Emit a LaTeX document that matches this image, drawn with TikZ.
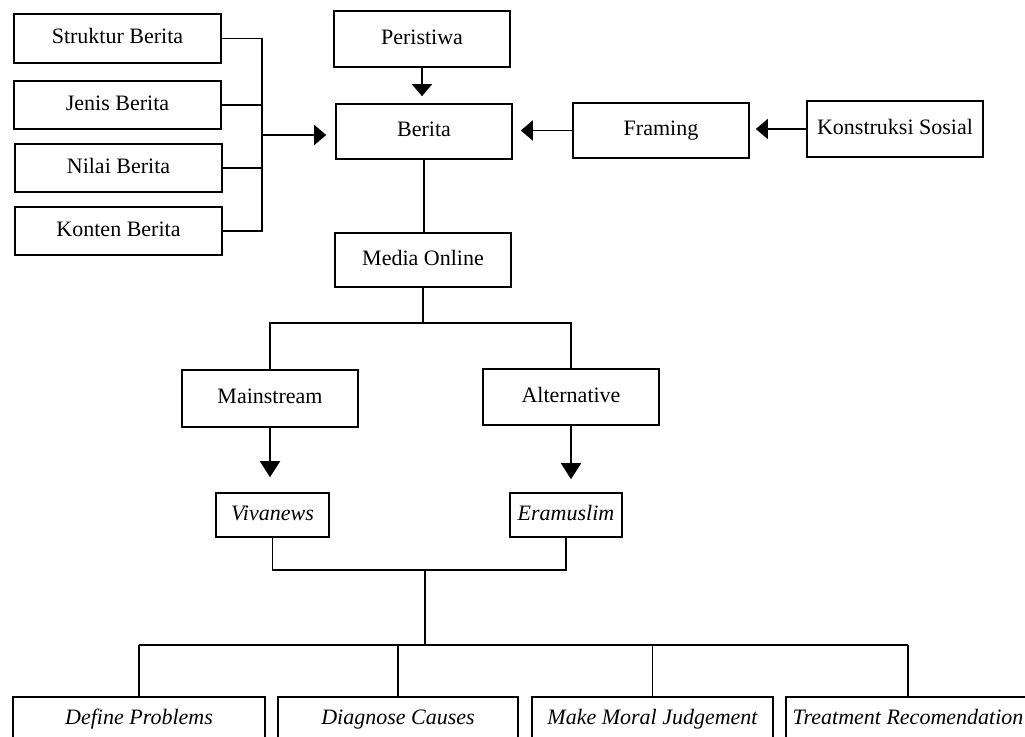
\documentclass[tikz,border=0pt]{standalone}
\usepackage{fontspec}
\setmainfont{Liberation Serif}
\usetikzlibrary{arrows.meta}

\begin{document}
\begin{tikzpicture}[x=1pt,y=-1pt,
  box/.style={draw,line width=1.6pt,inner sep=0pt,text height=14pt,text depth=4pt,
    font=\fontsize{22}{24}\selectfont},
  lin/.style={line width=1.7pt},
  arr/.style={lin,-{Triangle[length=12pt,width=20pt]}},
  arrlong/.style={lin,-{Triangle[length=16pt,width=20pt]}}]
\useasboundingbox (0,0) rectangle (1025,736);
\clip (0,0) rectangle (1025,736);
\node[box,minimum width=207pt,minimum height=49pt] (struktur) at (117.5,38.5) {Struktur Berita};
\node[box,minimum width=207pt,minimum height=48pt] (jenis) at (117.5,105) {Jenis Berita};
\node[box,minimum width=207pt,minimum height=48pt] (nilai) at (118.5,168) {Nilai Berita};
\node[box,minimum width=207pt,minimum height=48pt] (konten) at (118.5,231) {Konten Berita};
\node[box,minimum width=176pt,minimum height=56pt] (peristiwa) at (422,39) {Peristiwa};
\node[box,minimum width=176pt,minimum height=55pt] (berita) at (424,131.5) {Berita};
\node[box,minimum width=176pt,minimum height=55pt] (framing) at (661,130.5) {Framing};
\node[box,minimum width=176pt,minimum height=56pt] (konstruksi) at (895,129) {Konstruksi Sosial};
\node[box,minimum width=176pt,minimum height=54pt] (media) at (423,260) {Media Online};
\node[box,minimum width=176pt,minimum height=57pt] (mainstream) at (270,398.5) {Mainstream};
\node[box,minimum width=176pt,minimum height=56pt] (alternative) at (571,397) {Alternative};
\node[box,minimum width=113pt,minimum height=44pt] (vivanews) at (272.5,515) {\itshape Vivanews};
\node[box,minimum width=112pt,minimum height=44pt] (eramuslim) at (566,515) {\itshape Eramuslim};
\node[box,minimum width=252pt,minimum height=44pt] (define) at (139,719) {\itshape Define Problems};
\node[box,minimum width=240pt,minimum height=44pt] (diagnose) at (398,719) {\itshape Diagnose Causes};
\node[box,minimum width=241pt,minimum height=44pt] (moral) at (652.5,719) {\itshape Make Moral Judgement};
\node[box,minimum width=244pt,minimum height=44pt] (treatment) at (908,719) {\itshape Treatment Recomendation};
\coordinate (brk) at (262,135);
\coordinate (split) at (422,323);
\coordinate (join) at (425,570);
\coordinate (bus) at (425,645);

\draw[lin] (struktur.east) -- (struktur.east -| brk) -- (konten.east -| brk) -- (konten.east);
\draw[lin] (jenis.east) -- (jenis.east -| brk);
\draw[lin] (nilai.east) -- (nilai.east -| brk);
\draw[arr,shorten >=9pt] (brk) -- (brk -| berita.west);
\draw[arr,shorten >=7pt] (peristiwa.south) -- (peristiwa.south |- berita.north);
\draw[arr,shorten >=8pt] (framing.west) -- (berita.east |- framing.west);
\draw[arr,shorten >=6pt] (konstruksi.west) -- (framing.east |- konstruksi.west);
\draw[lin] (berita.south) -- (berita.south |- media.north);
\draw[lin] (media.south) -- (media.south |- split);
\draw[lin] (mainstream.north) -- (mainstream.north |- split) -- (alternative.north |- split) -- (alternative.north);
\draw[arrlong,shorten >=15pt] (mainstream.south) -- (mainstream.south |- vivanews.north);
\draw[arrlong,shorten >=13pt] (alternative.south) -- (alternative.south |- eramuslim.north);
\draw[lin] (vivanews.south) -- (vivanews.south |- join) -- (eramuslim.south |- join) -- (eramuslim.south);
\draw[lin] (join) -- (bus);
\draw[lin] (define.north |- bus) -- (treatment.north |- bus);
\foreach \n in {define,diagnose,moral,treatment}
  \draw[lin] (\n.north |- bus) -- (\n.north);
\end{tikzpicture}
\end{document}
